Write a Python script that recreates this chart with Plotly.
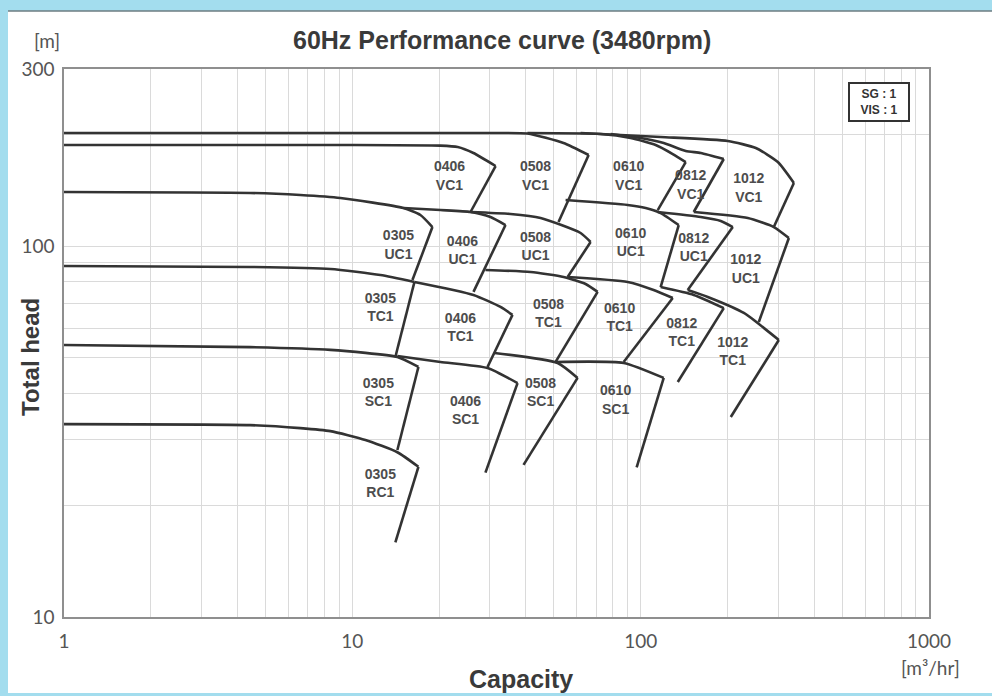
import math
import plotly.graph_objects as go

# ---------------- data (capacity m3/hr, total head m) ----------------
# VC1 row
q_0406_vc1 = [1, 9.09, 20.2, 23.2, 26.3, 31.4, 25.7]
h_0406_vc1 = [187.2, 187.2, 186.5, 184.9, 178.1, 164.3, 123.5]
q_0508_vc1 = [1, 10, 30, 40.5, 54.0, 66.0, 51.9]
h_0508_vc1 = [201.6, 201.6, 201.6, 201.0, 189.5, 175.9, 116.1]
q_0610_vc1 = [40.5, 72.6, 92.3, 112.7, 129.2, 143.3, 114.6]
h_0610_vc1 = [201.6, 200.4, 195.5, 187.2, 177.0, 168.4, 125.0]
q_0812_vc1 = [78.7, 100, 120.2, 143.3, 161.6, 194.2, 152.8]
h_0812_vc1 = [200.4, 195.5, 189.5, 180.4, 178.1, 171.6, 123.5]
q_1012_vc1 = [61.9, 117.3, 200.5, 250.8, 299.0, 339.9, 289.6]
h_1012_vc1 = [201.6, 196.7, 191.9, 183.7, 168.4, 147.9, 112.5]

# UC1 row
q_0305_uc1 = [1, 4.42, 6.60, 9.09, 15.04, 17.22, 18.96, 16.16]
h_0305_uc1 = [139.8, 139.0, 137.2, 134.7, 126.6, 121.2, 112.5, 81.0]
q_0406_uc1 = [15.04, 20.21, 25.69, 30.14, 33.98, 26.31]
h_0406_uc1 = [126.6, 125.0, 123.5, 119.7, 113.9, 75.2]
q_0508_uc1 = [25.69, 35.37, 44.97, 61.90, 67.05, 55.80]
h_0508_uc1 = [123.5, 122.0, 119.0, 108.4, 102.5, 82.5]
q_0610_uc1 = [54.9, 90.1, 104.1, 117.3, 135.5, 117.3]
h_0610_uc1 = [133.0, 129.0, 126.6, 122.7, 113.9, 77.5]
q_0812_uc1 = [114.6, 161.6, 189.6, 208.7, 145.6]
h_0812_uc1 = [123.5, 119.7, 116.8, 112.5, 76.1]
q_1012_uc1 = [152.8, 235.3, 289.6, 326.6, 256.9]
h_1012_uc1 = [123.5, 119.0, 112.5, 105.1, 62.4]

# TC1 row
q_0305_tc1 = [1, 4.42, 8.39, 12.51, 16.42, 14.10]
h_0305_tc1 = [88.3, 87.8, 86.7, 83.5, 80.0, 50.2]
q_0406_tc1 = [16.42, 26.31, 32.65, 35.93, 29.43]
h_0406_tc1 = [80.0, 73.8, 68.5, 65.2, 47.2]
q_0508_tc1 = [28.95, 41.51, 54.04, 64.42, 70.91, 50.70]
h_0508_tc1 = [86.2, 85.1, 82.5, 79.0, 75.2, 48.7]
q_0610_tc1 = [55.80, 90.14, 110.9, 129.2, 87.30]
h_0610_tc1 = [82.5, 80.0, 76.1, 72.4, 48.7]
q_0812_tc1 = [117.3, 152.8, 194.2, 134.5]
h_0812_tc1 = [77.5, 73.8, 68.0, 43.0]
q_1012_tc1 = [145.6, 170.9, 227.9, 301.4, 205.4]
h_1012_tc1 = [76.1, 72.9, 66.0, 55.8, 34.6]

# SC1 row
q_0305_sc1 = [1, 4.42, 8.39, 14.33, 16.95, 14.33]
h_0305_sc1 = [54.1, 53.4, 52.5, 50.2, 47.2, 28.2]
q_0406_sc1 = [14.33, 20.21, 29.43, 37.41, 28.95]
h_0406_sc1 = [50.5, 48.7, 46.9, 42.7, 24.5]
q_0508_sc1 = [31.12, 51.51, 60.43, 39.24]
h_0508_sc1 = [51.5, 48.4, 44.1, 25.7]
q_0610_sc1 = [50.70, 87.30, 120.2, 96.85]
h_0610_sc1 = [48.7, 48.4, 44.1, 25.3]

# RC1 row
q_0305_rc1 = [1, 4.42, 6.60, 8.39, 11.10, 14.33, 16.95, 14.10]
h_0305_rc1 = [33.1, 32.9, 32.3, 31.7, 30.0, 27.8, 25.4, 15.9]

# region labels
label_text = ["0406<br>VC1", "0508<br>VC1", "0610<br>VC1", "0812<br>VC1", "1012<br>VC1",
              "0305<br>UC1", "0406<br>UC1", "0508<br>UC1", "0610<br>UC1", "0812<br>UC1", "1012<br>UC1",
              "0305<br>TC1", "0406<br>TC1", "0508<br>TC1", "0610<br>TC1", "0812<br>TC1", "1012<br>TC1",
              "0305<br>SC1", "0406<br>SC1", "0508<br>SC1", "0610<br>SC1",
              "0305<br>RC1"]
label_q = [21.72, 43.19, 90.87, 149.1, 237.1,
           14.45, 24.09, 43.19, 92.33, 152.8, 231.5,
           12.51, 23.71, 47.92, 84.54, 138.8, 208.7,
           12.31, 24.69, 44.97, 81.88,
           12.51]
label_h = [153.5, 153.5, 153.5, 145.2, 142.5,
           100.0, 96.7, 99.1, 101.6, 98.5, 86.2,
           67.9, 59.8, 65.4, 63.8, 58.1, 51.6,
           40.0, 35.8, 40.0, 38.2,
           22.8]

# axis ticks
x_tickvals = [m * 10 ** e for e in range(3) for m in range(1, 10)] + [1000]
x_ticktext = [str(v) if v in (1, 10, 100, 1000) else "" for v in x_tickvals]
y_tickvals = [10, 20, 30, 40, 50, 60, 70, 80, 90, 100, 200, 300]
y_ticktext = [str(v) if v in (10, 100, 300) else "" for v in y_tickvals]

curves = [
    (q_0406_vc1, h_0406_vc1), (q_0508_vc1, h_0508_vc1), (q_0610_vc1, h_0610_vc1),
    (q_0812_vc1, h_0812_vc1), (q_1012_vc1, h_1012_vc1),
    (q_0305_uc1, h_0305_uc1), (q_0406_uc1, h_0406_uc1), (q_0508_uc1, h_0508_uc1),
    (q_0610_uc1, h_0610_uc1), (q_0812_uc1, h_0812_uc1), (q_1012_uc1, h_1012_uc1),
    (q_0305_tc1, h_0305_tc1), (q_0406_tc1, h_0406_tc1), (q_0508_tc1, h_0508_tc1),
    (q_0610_tc1, h_0610_tc1), (q_0812_tc1, h_0812_tc1), (q_1012_tc1, h_1012_tc1),
    (q_0305_sc1, h_0305_sc1), (q_0406_sc1, h_0406_sc1), (q_0508_sc1, h_0508_sc1),
    (q_0610_sc1, h_0610_sc1),
    (q_0305_rc1, h_0305_rc1),
]

LINE = dict(color="#333333", width=2.6)

fig = go.Figure()
for q, h in curves:
    # head curve up to the corner (smooth), then the straight end-of-range line
    fig.add_trace(go.Scatter(x=q[:-1], y=h[:-1], mode="lines",
                             line=dict(shape="spline", smoothing=0.55, **LINE),
                             hoverinfo="skip", showlegend=False))
    fig.add_trace(go.Scatter(x=q[-2:], y=h[-2:], mode="lines", line=LINE,
                             hoverinfo="skip", showlegend=False))

fig.add_trace(go.Scatter(x=label_q, y=label_h, mode="text",
                         text=[f"<b>{t}</b>" for t in label_text],
                         textposition="middle center",
                         textfont=dict(family="Liberation Sans", size=14, color="#4d4d4d"),
                         hoverinfo="skip", showlegend=False))

W, H = 992, 696
L, R, T, B = 64, 63, 69, 79
pw, ph = W - L - R, H - T - B


def px(xp):
    return (xp - L) / pw


def py(yp):
    return (H - B - yp) / ph


axis_common = dict(
    type="log", tickmode="array", showgrid=True, gridcolor="#dadada", gridwidth=1,
    showline=True, mirror=True, linecolor="#8f8f8f", linewidth=1.5,
    ticks="outside", tickcolor="rgba(0,0,0,0)",
    tickfont=dict(family="Lato", size=19, color="#555555"), zeroline=False,
)

fig.update_layout(
    width=W, height=H,
    margin=dict(l=L, r=R, t=T, b=B),
    paper_bgcolor="#a3ddee", plot_bgcolor="white",
    xaxis=dict(range=[0, 3], tickvals=x_tickvals, ticktext=x_ticktext, ticklen=6, **axis_common),
    yaxis=dict(range=[1, math.log10(300)], tickvals=y_tickvals, ticktext=y_ticktext, ticklen=4, **axis_common),
    shapes=[
        dict(type="rect", xref="paper", yref="paper", x0=px(8), x1=px(992), y0=py(693), y1=py(11),
             fillcolor="white", line=dict(width=0), layer="below"),
        dict(type="line", xref="paper", yref="paper", x0=px(8), x1=px(992), y0=py(11), y1=py(11),
             line=dict(color="#6d7c82", width=1.5), layer="below"),
    ],
    annotations=[
        dict(text="<b>60Hz Performance curve (3480rpm)</b>", x=px(502), y=py(40), xref="paper", yref="paper",
             showarrow=False, font=dict(family="Liberation Sans", size=25, color="#3a3a3a"),
             xanchor="center", yanchor="middle"),
        dict(text="[m]", x=px(47), y=py(40), xref="paper", yref="paper", showarrow=False,
             font=dict(family="Lato", size=19, color="#555555"), xanchor="center", yanchor="middle"),
        dict(text="<b>Total head</b>", x=px(30), y=py(357), xref="paper", yref="paper", showarrow=False,
             textangle=-90, font=dict(family="Liberation Sans", size=24, color="#3a3a3a"),
             xanchor="center", yanchor="middle"),
        dict(text="<b>Capacity</b>", x=px(521), y=py(679), xref="paper", yref="paper", showarrow=False,
             font=dict(family="Liberation Sans", size=25, color="#3a3a3a"),
             xanchor="center", yanchor="middle"),
        dict(text="[m³/hr]", x=px(930), y=py(667), xref="paper", yref="paper", showarrow=False,
             font=dict(family="Lato", size=19, color="#555555"), xanchor="center", yanchor="middle"),
        dict(text="<b>SG : 1<br>VIS : 1</b>", x=px(879), y=py(102), xref="paper", yref="paper",
             showarrow=False, font=dict(family="Liberation Sans", size=12, color="#333333"),
             xanchor="center", yanchor="middle", bordercolor="#333333", borderwidth=2,
             borderpad=2, bgcolor="white", width=54, height=32, align="center"),
    ],
)

fig.write_html("out.html", config={"displayModeBar": False},
               post_script="document.body.style.margin='0';")
